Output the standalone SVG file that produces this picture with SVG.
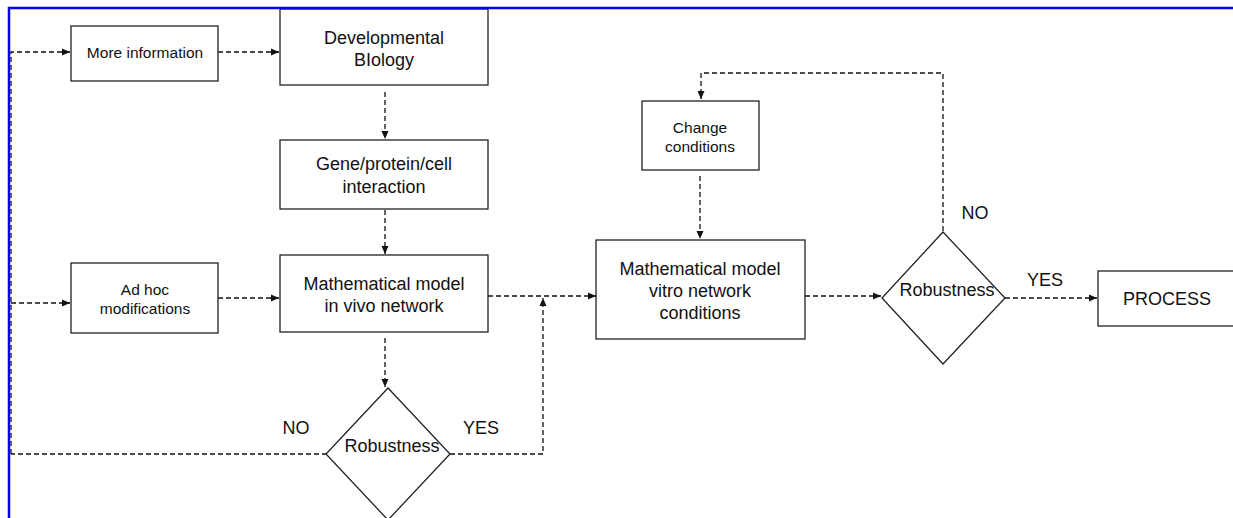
<svg xmlns="http://www.w3.org/2000/svg" width="1233" height="518" viewBox="0 0 1233 518">
<style>
.box{fill:#fff;stroke:#222;stroke-width:1.3}
.c{fill:none;stroke:#111;stroke-width:1.3;stroke-dasharray:5,3}
.t{font-family:"Liberation Sans",Arial,sans-serif;fill:#111;text-anchor:middle}
.b{font-size:18px}
.s{font-size:15.5px}
</style>
<defs>
<marker id="ah" viewBox="0 0 8 8" refX="8" refY="4" markerWidth="8" markerHeight="8" markerUnits="userSpaceOnUse" orient="auto">
<path d="M0,0.5 L8,4 L0,7.5 Z" fill="#111"/>
</marker>
</defs>
<rect width="1233" height="518" fill="#fff"/>
<g id="connectors">
<path class="c" d="M11,454 V52 H70" marker-end="url(#ah)"/>
<path class="c" d="M11,303 H70" marker-end="url(#ah)"/>
<path class="c" d="M218,52 H279" marker-end="url(#ah)"/>
<path class="c" d="M218,298 H279" marker-end="url(#ah)"/>
<path class="c" d="M385,92 V139" marker-end="url(#ah)"/>
<path class="c" d="M385,210 V254" marker-end="url(#ah)"/>
<path class="c" d="M385,338 V387" marker-end="url(#ah)"/>
<path class="c" d="M327,454 H11"/>
<path class="c" d="M450,454 H543 V298" marker-end="url(#ah)"/>
<path class="c" d="M488,296 H596" marker-end="url(#ah)"/>
<path class="c" d="M700,176 V239" marker-end="url(#ah)"/>
<path class="c" d="M805,296 H881" marker-end="url(#ah)"/>
<path class="c" d="M943,231 V73 H701 V99" marker-end="url(#ah)"/>
<path class="c" d="M1005,298 H1097" marker-end="url(#ah)"/>
</g>
<g id="more-info">
<rect class="box" x="71" y="26" width="147" height="55"/>
<text class="t s" x="145" y="58">More information</text>
</g>
<g id="dev-bio">
<rect class="box" x="280" y="9" width="208" height="76"/>
<text class="t b" x="384" y="44">Developmental</text>
<text class="t b" x="384" y="66">BIology</text>
</g>
<g id="gene">
<rect class="box" x="280" y="140" width="208" height="69"/>
<text class="t b" x="384" y="170">Gene/protein/cell</text>
<text class="t b" x="384" y="193">interaction</text>
</g>
<g id="adhoc">
<rect class="box" x="71" y="263" width="147" height="70"/>
<text class="t s" x="145" y="295">Ad hoc</text>
<text class="t s" x="145" y="314">modifications</text>
</g>
<g id="model-vivo">
<rect class="box" x="280" y="255" width="208" height="77"/>
<text class="t b" x="384" y="290">Mathematical model</text>
<text class="t b" x="384" y="312">in vivo network</text>
</g>
<g id="robust1">
<polygon class="box" points="388,388 450,454 388,520 326,454"/>
<text class="t b" x="392" y="452">Robustness</text>
<text class="t b" x="296" y="434">NO</text>
<text class="t b" x="481" y="434">YES</text>
</g>
<g id="change">
<rect class="box" x="642" y="101" width="117" height="69"/>
<text class="t s" x="700" y="133">Change</text>
<text class="t s" x="700" y="152">conditions</text>
</g>
<g id="model-vitro">
<rect class="box" x="596" y="240" width="209" height="99"/>
<text class="t b" x="700" y="275">Mathematical model</text>
<text class="t b" x="700" y="297">vitro network</text>
<text class="t b" x="700" y="319">conditions</text>
</g>
<g id="robust2">
<polygon class="box" points="943,232 1005,298 943,364 882,298"/>
<text class="t b" x="947" y="296">Robustness</text>
<text class="t b" x="975" y="219">NO</text>
<text class="t b" x="1045" y="286">YES</text>
</g>
<g id="process">
<rect class="box" x="1098" y="271" width="140" height="55"/>
<text class="t b" x="1167" y="305">PROCESS</text>
</g>
<g id="frame" fill="none" stroke="#0000ee" stroke-width="2.5">
<path d="M9,518 V8 H1233"/>
</g>
</svg>
